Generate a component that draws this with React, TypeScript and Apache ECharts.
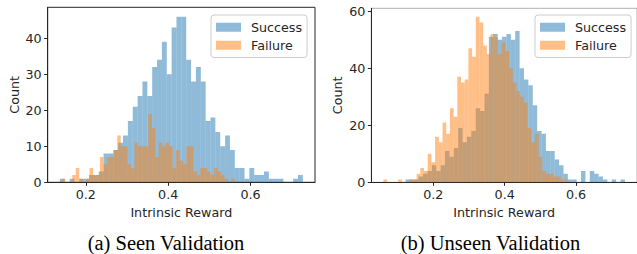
import React, { useEffect, useRef } from "react";
import * as echarts from "echarts";

// ---------- data ----------
const seenSuccessRange = [0.137, 0.727];
const seenSuccessCounts = [
  1, 0, 1, 0, 1, 1, 2, 2, 3, 8, 8, 9, 11, 13, 17, 21, 24, 28, 24, 32, 34, 39, 30, 43, 46,
  46, 34, 28, 32, 28, 17, 18, 14, 10, 13, 9, 4, 4, 1, 4, 2, 2, 3, 1, 1, 1, 0, 0, 1, 2,
];
const seenFailureRange = [0.142, 0.562];
const seenFailureCounts = [
  1, 0, 0, 2, 4, 1, 0, 1, 4, 2, 2, 7, 5, 7, 7, 9, 13, 10, 10, 5, 4, 11, 10, 10, 10,
  19, 15, 7, 11, 10, 11, 10, 4, 9, 6, 5, 10, 10, 3, 2, 4, 4, 3, 2, 4, 3, 2, 1, 0, 1,
];
const unseenSuccessRange = [0.122, 0.737];
const unseenSuccessCounts = [
  1, 1, 1, 2, 3, 4, 6, 4, 6, 11, 9, 12, 19, 14, 16, 18, 26, 25, 31, 51, 52, 50, 51, 52, 50,
  53, 40, 36, 34, 27, 18, 17, 11, 11, 8, 6, 3, 1, 1, 0, 4, 0, 4, 3, 2, 1, 0, 1, 0, 1,
];
const unseenFailureRange = [0.06, 0.578];
const unseenFailureCounts = [
  1, 0, 0, 0, 1, 0, 0, 1, 1, 3, 5, 4, 10, 7, 16, 14, 21, 17, 26, 23, 37, 35, 36, 47, 44,
  58, 56, 48, 45, 52, 51, 45, 49, 46, 40, 35, 32, 30, 28, 19, 14, 17, 9, 4, 3, 3, 2, 2, 1, 1,
];

const seenXTicks = [0.2, 0.4, 0.6];
const seenYTicks = [0, 10, 20, 30, 40];
const unseenXTicks = [0.2, 0.4, 0.6];
const unseenYTicks = [0, 20, 40, 60];
const legendNames = ["Success", "Failure"];
const captions = ["(a) Seen Validation", "(b) Unseen Validation"];
const xAxisTitle = "Intrinsic Reward";
const yAxisTitle = "Count";

// ---------- helpers ----------
const SANS = "DejaVu Sans";
const INK = "#262626";
const BLUE = "rgba(31,119,180,0.5)";
const ORANGE = "rgba(255,127,14,0.5)";
const FS = 12.7;

function makeHist(counts: number[], range: number[]) {
  const n = counts.length;
  const w = (range[1] - range[0]) / n;
  return counts.map((c, i) => [range[0] + i * w, range[0] + (i + 1) * w, c]);
}

const renderHist = (params: any, api: any) => {
  const x0 = api.value(0);
  const x1 = api.value(1);
  const y = api.value(2);
  if (!y) return null;
  const a = api.coord([x0, y]);
  const b = api.coord([x1, 0]);
  return {
    type: "rect",
    shape: { x: a[0], y: a[1], width: b[0] - a[0], height: b[1] - a[1] },
    style: { fill: api.visual("color") },
  };
};

function xAxisDef(gridIndex: number, min: number, max: number, ticks: number[]) {
  return {
    type: "value",
    gridIndex,
    min,
    max,
    name: xAxisTitle,
    nameLocation: "middle",
    nameGap: 20,
    nameTextStyle: { fontFamily: SANS, fontSize: FS, color: INK },
    axisLine: { show: true, onZero: false, lineStyle: { color: INK, width: 1 } },
    axisTick: { show: true, length: 3.5, customValues: ticks, lineStyle: { color: INK } },
    axisLabel: {
      customValues: ticks,
      margin: 6,
      fontFamily: SANS,
      fontSize: FS,
      color: INK,
      formatter: (v: number) => v.toFixed(1),
    },
    splitLine: { show: false },
  };
}

function yAxisDef(gridIndex: number, max: number, ticks: number[]) {
  return {
    type: "value",
    gridIndex,
    min: 0,
    max,
    name: yAxisTitle,
    nameLocation: "middle",
    nameGap: 27,
    nameTextStyle: { fontFamily: SANS, fontSize: FS, color: INK },
    axisLine: { show: true, lineStyle: { color: INK, width: 1 } },
    axisTick: { show: true, length: 3.5, customValues: ticks, lineStyle: { color: INK } },
    axisLabel: {
      customValues: ticks,
      margin: 6,
      fontFamily: SANS,
      fontSize: FS,
      color: INK,
      formatter: (v: number) => String(Math.round(v)),
    },
    splitLine: { show: false },
  };
}

function legendDef(left: number, top: number) {
  return {
    left,
    top,
    orient: "vertical",
    data: legendNames,
    icon: "rect",
    itemWidth: 25,
    itemHeight: 9,
    itemGap: 3.5,
    padding: [5, 5, 5, 5],
    borderColor: "#cccccc",
    borderWidth: 1,
    borderRadius: 3,
    backgroundColor: "rgba(255,255,255,0.8)",
    selectedMode: false,
    textStyle: {
      fontFamily: SANS,
      fontSize: FS,
      color: INK,
      lineHeight: 14.5,
      padding: [0, 0, 0, 5],
    },
  };
}

export default function App() {
  const ref = useRef<HTMLDivElement>(null);
  useEffect(() => {
    if (!ref.current) return;
    const chart = echarts.init(ref.current, undefined, { renderer: "svg" });
    chart.setOption({
      animation: false,
      backgroundColor: "#ffffff",
      grid: [
        { left: 47.7, top: 7.3, width: 267.3, height: 175, show: true, borderColor: INK, borderWidth: 1, backgroundColor: "transparent" },
        { left: 371.3, top: 8.3, width: 268.1, height: 174, show: true, borderColor: "#b0b0b0", borderWidth: 1, backgroundColor: "transparent" },
      ],
      xAxis: [
        xAxisDef(0, 0.1075, 0.7565, seenXTicks),
        xAxisDef(1, 0.0261, 0.7709, unseenXTicks),
      ],
      yAxis: [yAxisDef(0, 48.6, seenYTicks), yAxisDef(1, 61.0, unseenYTicks)],
      legend: [legendDef(211, 15), legendDef(535, 15)],
      series: [
        {
          type: "custom",
          name: legendNames[0],
          xAxisIndex: 0,
          yAxisIndex: 0,
          data: makeHist(seenSuccessCounts, seenSuccessRange),
          encode: { x: [0, 1], y: 2 },
          renderItem: renderHist,
          itemStyle: { color: BLUE },
          clip: true,
        },
        {
          type: "custom",
          name: legendNames[1],
          xAxisIndex: 0,
          yAxisIndex: 0,
          data: makeHist(seenFailureCounts, seenFailureRange),
          encode: { x: [0, 1], y: 2 },
          renderItem: renderHist,
          itemStyle: { color: ORANGE },
          clip: true,
        },
        {
          type: "custom",
          name: legendNames[0],
          xAxisIndex: 1,
          yAxisIndex: 1,
          data: makeHist(unseenSuccessCounts, unseenSuccessRange),
          encode: { x: [0, 1], y: 2 },
          renderItem: renderHist,
          itemStyle: { color: BLUE },
          clip: true,
        },
        {
          type: "custom",
          name: legendNames[1],
          xAxisIndex: 1,
          yAxisIndex: 1,
          data: makeHist(unseenFailureCounts, unseenFailureRange),
          encode: { x: [0, 1], y: 2 },
          renderItem: renderHist,
          itemStyle: { color: ORANGE },
          clip: true,
        },
      ],
      graphic: [
        {
          type: "text",
          x: 166,
          y: 243,
          style: {
            text: captions[0],
            fontFamily: "Liberation Serif",
            fontSize: 20.5,
            fill: "#000000",
            align: "center",
            verticalAlign: "middle",
          },
        },
        {
          type: "text",
          x: 490.5,
          y: 243,
          style: {
            text: captions[1],
            fontFamily: "Liberation Serif",
            fontSize: 20.5,
            fill: "#000000",
            align: "center",
            verticalAlign: "middle",
          },
        },
      ],
    });
    return () => chart.dispose();
  }, []);
  return (
    <div
      ref={ref}
      style={{ position: "absolute", left: 0, top: 0, width: 637, height: 254 }}
    />
  );
}
